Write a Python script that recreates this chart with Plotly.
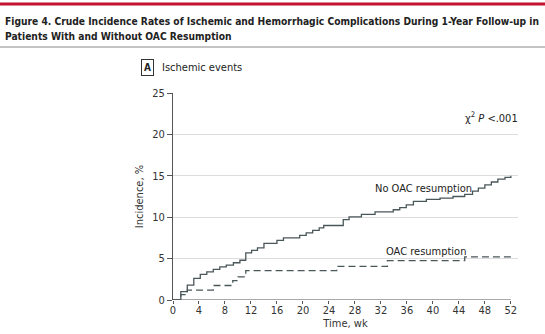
import plotly.graph_objects as go

# Cumulative incidence (%) by follow-up week
no_oac_wk = [0, 1.2, 2.2, 3.2, 4.2, 5.2, 6.2, 7.2, 8.2, 9.3, 10.3, 11.2, 12.1, 13, 14, 16, 17,
             19.5, 20.5, 21.5, 22.5, 23.2, 26.2, 27.1, 29, 31.1, 33.9, 34.9, 35.9, 37, 39,
             41.1, 43.1, 44.9, 46.1, 47, 48, 49, 50, 51.1, 52]
no_oac_pct = [0, 1.0, 1.8, 2.6, 3.1, 3.4, 3.7, 4.0, 4.2, 4.5, 4.8, 5.7, 6.0, 6.3, 6.85, 7.2, 7.5,
              7.8, 8.1, 8.4, 8.7, 9.0, 9.7, 10.05, 10.35, 10.65, 10.9, 11.15, 11.5, 11.9, 12.15,
              12.3, 12.5, 12.75, 13.15, 13.5, 13.9, 14.25, 14.6, 14.8, 15.0]

oac_wk = [0, 1.2, 2.2, 6.2, 9.2, 10, 11.2, 25.2, 33, 44.9, 52]
oac_pct = [0, 0.65, 1.2, 1.75, 2.35, 2.8, 3.55, 4.05, 4.75, 5.2, 5.2]

x_ticks = list(range(0, 53, 4))
y_ticks = [0, 5, 10, 15, 20, 25]

title_lines = [
    "Figure 4. Crude Incidence Rates of Ischemic and Hemorrhagic Complications During 1-Year Follow-up in",
    "Patients With and Without OAC Resumption",
]

LINE = "#4a5759"
TXT = "#333333"
FONT = "DejaVu Sans Condensed, Liberation Sans Narrow, Arial Narrow, sans-serif"

W, H = 545, 334
L, R, T, B = 173, 27, 93, 34
PW, PH = W - L - R, H - T - B


def px(xp):
    return (xp - L) / PW


def py(yp):
    return (H - B - yp) / PH


fig = go.Figure()
fig.add_trace(go.Scatter(x=no_oac_wk, y=no_oac_pct, mode="lines", line_shape="hv",
                         line=dict(color=LINE, width=1.3), name="No OAC resumption"))
fig.add_trace(go.Scatter(x=oac_wk, y=oac_pct, mode="lines", line_shape="hv",
                         line=dict(color=LINE, width=1.3, dash="7px,4px"), name="OAC resumption"))

fig.update_layout(
    width=W, height=H,
    margin=dict(l=L, r=R, t=T, b=B, autoexpand=False),
    paper_bgcolor="white", plot_bgcolor="white",
    showlegend=False,
    font=dict(family=FONT, size=11, color=TXT),
    xaxis=dict(range=[0, 53.1], tickvals=x_ticks, ticks="outside", ticklen=3,
               tickcolor="#555", showgrid=False, showline=False, zeroline=False,
               automargin=False, ticklabelstandoff=-3,
               tickfont=dict(size=11, color=TXT),
               title=dict(text="Time, wk", font=dict(size=11, color=TXT), standoff=2)),
    yaxis=dict(range=[0, 25], tickvals=y_ticks, ticks="outside", ticklen=5,
               tickcolor="#555", showgrid=True, gridcolor="#dddddd", gridwidth=1,
               showline=True, linecolor="#555", linewidth=1, zeroline=False,
               automargin=False,
               tickfont=dict(size=11, color=TXT),
               title=dict(text="Incidence, %", font=dict(size=11, color=TXT), standoff=6)),
)

# x axis baseline spanning the follow-up year
fig.add_shape(type="line", xref="x", yref="y", x0=0, x1=52, y0=0, y1=0,
              line=dict(color="#555", width=1))

# header: red rule, two-line title, gray rule
fig.add_shape(type="line", xref="paper", yref="paper", x0=px(0), x1=px(W),
              y0=py(4), y1=py(4), line=dict(color="#c4122f", width=3))
fig.add_shape(type="line", xref="paper", yref="paper", x0=px(0), x1=px(W),
              y0=py(47), y1=py(47), line=dict(color="#888888", width=1))
for line_text, yc in zip(title_lines, [21, 37]):
    fig.add_annotation(xref="paper", yref="paper", x=px(3), y=py(yc),
                       xanchor="left", yanchor="middle", align="left", showarrow=False,
                       text="<b>" + line_text + "</b>",
                       font=dict(family=FONT, size=10.2, color="#222222"))

# panel label
fig.add_annotation(xref="paper", yref="paper", x=px(147), y=py(68),
                   xanchor="center", yanchor="middle", showarrow=False, text="<b>A</b>",
                   font=dict(family=FONT, size=10, color="#222"),
                   bordercolor="#333", borderwidth=1, borderpad=2)
fig.add_annotation(xref="paper", yref="paper", x=px(160), y=py(68),
                   xanchor="left", yanchor="middle", showarrow=False, text="Ischemic events",
                   font=dict(family=FONT, size=11, color="#222"))

# in-plot labels
fig.add_annotation(xref="x", yref="y", x=49, y=22.1, showarrow=False,
                   text="χ<sup>2</sup> <i>P</i> <.001", font=dict(size=11, color="#222"))
fig.add_annotation(xref="x", yref="y", x=38.6, y=13.5, showarrow=False,
                   text="No OAC resumption", font=dict(size=11, color="#222"))
fig.add_annotation(xref="x", yref="y", x=39.0, y=5.8, showarrow=False,
                   text="OAC resumption", font=dict(size=11, color="#222"))

fig.write_html("out.html")
